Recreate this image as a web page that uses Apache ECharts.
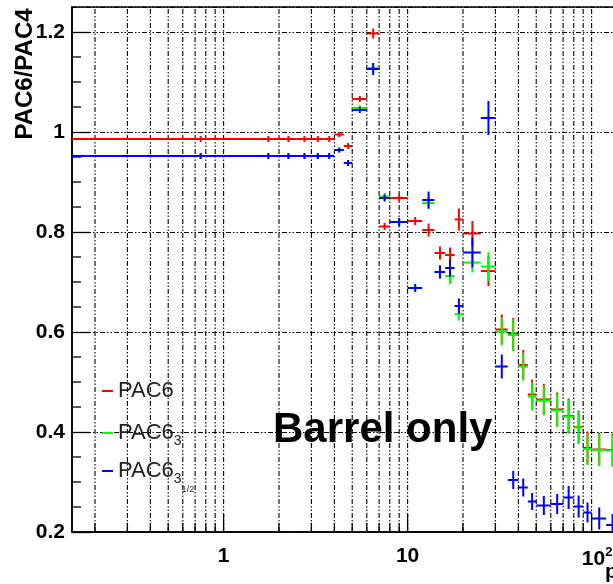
<!DOCTYPE html>
<html>
<head>
<meta charset="utf-8">
<script src="https://cdn.jsdelivr.net/npm/echarts@6/dist/echarts.min.js"></script>
<style>
  html, body { margin: 0; padding: 0; background: #fff; }
  #main { width: 613px; height: 584px; }
</style>
</head>
<body>
<div id="main"></div>
<script>
// bin edges in pT (GeV/c)
var binEdges = [0, 0.5, 1, 1.5, 2, 2.5, 3, 3.5, 4, 4.5, 5, 6, 7, 8, 10, 12, 14, 16, 18, 20,
                25, 30, 35, 40, 45, 50, 60, 70, 80, 90, 100, 120, 140];

// PAC6 (red)
var pac6 = [0.986, 0.986, 0.986, 0.986, 0.986, 0.986, 0.986, 0.986, 0.995, 0.972,
            1.066, 1.197, 0.811, 0.868, 0.822, 0.804, 0.758, 0.754, 0.825,
            0.797, 0.722, 0.605, 0.596, 0.534, 0.475, 0.465, 0.445, 0.432, 0.410, 0.368,
            0.365, 0.364];
var pac6Err = [0, 0.006, 0, 0.006, 0.006, 0.006, 0.006, 0.006, 0.005, 0.006,
               0.006, 0.010, 0.007, 0.007, 0.008, 0.013, 0.013, 0.015, 0.022,
               0.025, 0.030, 0.030, 0.032, 0.030, 0.030, 0.031, 0.034, 0.035, 0.033, 0.033,
               0.033, 0.033];

// PAC6_3 (green)
var pac63 = [0.952, 0.952, 0.952, 0.952, 0.952, 0.952, 0.952, 0.952, 0.964, 0.938,
             1.048, 1.128, 0.871, 0.820, 0.688, 0.858, 0.720, 0.712, 0.636,
             0.739, 0.731, 0.601, 0.594, 0.531, 0.471, 0.463, 0.443, 0.431, 0.409, 0.366,
             0.364, 0.363];
var pac63Err = [0, 0.006, 0, 0.006, 0.006, 0.006, 0.006, 0.006, 0.005, 0.006,
                0.006, 0.010, 0.007, 0.008, 0.008, 0.012, 0.013, 0.016, 0.013,
                0.020, 0.029, 0.028, 0.032, 0.028, 0.028, 0.030, 0.033, 0.034, 0.032, 0.032,
                0.032, 0.032];

// PAC6_3 1/2 (blue)
var pac6312 = [0.952, 0.952, 0.952, 0.952, 0.952, 0.952, 0.952, 0.952, 0.964, 0.938,
               1.044, 1.126, 0.868, 0.820, 0.688, 0.864, 0.720, 0.728, 0.652,
               0.759, 1.028, 0.531, 0.304, 0.289, 0.261, 0.253, 0.256, 0.269, 0.251, 0.239,
               0.227, 0.214];
var pac6312Err = [0, 0.006, 0, 0.006, 0.006, 0.006, 0.006, 0.006, 0.005, 0.006,
                  0.006, 0.012, 0.007, 0.008, 0.008, 0.017, 0.013, 0.017, 0.015,
                  0.030, 0.034, 0.024, 0.018, 0.018, 0.017, 0.019, 0.020, 0.023, 0.022, 0.020,
                  0.022, 0.022];

// grid / tick positions
var xGridMajor = [1, 10, 100];
var xGridMinor = [0.2, 0.3, 0.4, 0.5, 0.6, 0.7, 0.8, 0.9, 2, 3, 4, 5, 6, 7, 8, 9,
                  20, 30, 40, 50, 60, 70, 80, 90, 200];
var yMinorTicks = [0.25, 0.3, 0.35, 0.45, 0.5, 0.55, 0.65, 0.7, 0.75, 0.85, 0.9, 0.95,
                   1.05, 1.1, 1.15];

var xMin = 0.15, xMax = 200, yMin = 0.2, yMax = 1.25;
var FONT = '"Liberation Sans", Arial, Helvetica, sans-serif';
var dashDot = [5, 2, 1.5, 2, 1.5, 2];

var chart = echarts.init(document.getElementById('main'));

function makeData(vals, errs) {
    return vals.map(function (v, i) {
        var lo = binEdges[i], hi = binEdges[i + 1];
        return [(lo + hi) / 2, v, errs[i], lo, hi];
    });
}

function errorRender(color) {
    return function (params, api) {
        var y = api.value(1), e = api.value(2);
        var lo = Math.max(api.value(3), xMin), hi = api.value(4), xc = api.value(0);
        var pl = api.coord([lo, y]), ph = api.coord([hi, y]);
        var pc = api.coord([xc, y]);
        var top = api.coord([xc, y + e]), bot = api.coord([xc, y - e]);
        var st = { stroke: color, lineWidth: 2 };
        var children = [
            { type: 'line', shape: { x1: pl[0], y1: pl[1], x2: ph[0], y2: ph[1] }, style: st }
        ];
        if (e > 0) {
            children.push({ type: 'line', shape: { x1: pc[0], y1: top[1], x2: pc[0], y2: bot[1] }, style: st });
        }
        return { type: 'group', children: children };
    };
}

function errorSeries(name, color, vals, errs) {
    return {
        name: name,
        type: 'custom',
        clip: true,
        itemStyle: { color: color },
        renderItem: errorRender(color),
        encode: { x: 0, y: 1 },
        data: makeData(vals, errs),
        silent: true
    };
}

var gridData = xGridMajor.map(function (x) { return [x, yMin, 1]; })
    .concat(xGridMinor.map(function (x) { return [x, yMin, 0]; }));

var gridSeries = {
    type: 'custom',
    clip: true,
    silent: true,
    encode: { x: 0, y: 1 },
    data: gridData,
    renderItem: function (params, api) {
        var x = api.value(0), major = api.value(2);
        var b = api.coord([x, yMin]), t = api.coord([x, yMax]);
        return {
            type: 'group',
            children: [
                { type: 'line', shape: { x1: b[0], y1: b[1], x2: t[0], y2: t[1] },
                  style: { stroke: '#000', lineWidth: 1.1, lineDash: dashDot } },
                { type: 'line', shape: { x1: b[0], y1: b[1], x2: b[0], y2: b[1] - (major ? 18 : 9) },
                  style: { stroke: '#000', lineWidth: 1.3 } }
            ]
        };
    }
};

var yTickSeries = {
    type: 'custom',
    clip: true,
    silent: true,
    encode: { x: 0, y: 1 },
    data: yMinorTicks.map(function (y) { return [xMin, y]; }),
    renderItem: function (params, api) {
        var p = api.coord([xMin, api.value(1)]);
        return { type: 'line', shape: { x1: p[0], y1: p[1], x2: p[0] + 9, y2: p[1] },
                 style: { stroke: '#000', lineWidth: 1.3 } };
    }
};

var legendRich = {
    m: { fontSize: 22, fontFamily: FONT, color: '#222' },
    s: { fontSize: 14, fontFamily: FONT, color: '#222', padding: [17, 0, 0, 0] },
    t: { fontSize: 9, fontFamily: FONT, color: '#222', padding: [38, 0, 0, 0] }
};
var legendLabels = {
    'PAC6': '{m|PAC6}',
    'PAC6_3': '{m|PAC6}{s|3}',
    'PAC6_3_1/2': '{m|PAC6}{s|3}{t|1/2}'
};
function makeLegend(name, top) {
    return {
        data: [name],
        left: 102,
        top: top,
        padding: 0,
        icon: 'rect',
        itemWidth: 11,
        itemHeight: 2,
        selectedMode: false,
        formatter: function (n) { return legendLabels[n]; },
        textStyle: { rich: legendRich }
    };
}

function isDecade(v) {
    var l = Math.log10(v);
    return Math.abs(l - Math.round(l)) < 1e-6;
}

var option = {
    animation: false,
    backgroundColor: '#fff',
    grid: {
        left: 72, top: 7, width: 575, height: 525,
        outerBoundsMode: 'none',
        containLabel: false,
        show: true, borderColor: '#000', borderWidth: 1.5
    },
    xAxis: {
        type: 'log',
        logBase: 10,
        min: xMin,
        max: xMax,
        axisLine: { lineStyle: { color: '#000', width: 1.5 } },
        axisTick: { show: false },
        splitLine: { show: false },
        axisLabel: {
            margin: 14,
            showMinLabel: false,
            showMaxLabel: false,
            formatter: function (v) {
                if (!isDecade(v)) return '';
                var p = Math.round(Math.log10(v));
                if (p === 0) return '{b|1}';
                if (p === 1) return '{b|10}';
                return '{c|10}{p|' + p + '}';
            },
            rich: {
                b: { fontSize: 21, fontWeight: 'bold', fontFamily: FONT, color: '#000' },
                c: { fontSize: 21, fontWeight: 'bold', fontFamily: FONT, color: '#000', padding: [0, 0, 0, 11] },
                p: { fontSize: 13, fontWeight: 'bold', fontFamily: FONT, color: '#000', padding: [0, 0, 14, 0] }
            }
        }
    },
    yAxis: {
        type: 'value',
        min: yMin,
        max: yMax,
        interval: 0.2,
        axisLine: { show: true, lineStyle: { color: '#000', width: 1.5 } },
        axisTick: { show: true, inside: true, length: 18, lineStyle: { color: '#000', width: 1.3 } },
        splitLine: { show: true, lineStyle: { color: '#000', width: 1.1, type: dashDot } },
        axisLabel: {
            margin: 7,
            showMaxLabel: false,
            fontSize: 21,
            fontWeight: 'bold',
            fontFamily: FONT,
            color: '#000',
            formatter: function (v) {
                return Math.abs(v - 1) < 1e-9 ? '1' : (+v.toFixed(2)).toString();
            }
        }
    },
    legend: [
        makeLegend('PAC6', 380),
        makeLegend('PAC6_3', 422),
        makeLegend('PAC6_3_1/2', 460)
    ],
    graphic: [
        {
            type: 'text', x: 25, y: 74, rotation: Math.PI / 2,
            style: { text: 'PAC6/PAC4', font: 'bold 24px ' + FONT, fill: '#000',
                     align: 'center', verticalAlign: 'middle' }
        },
        {
            type: 'text', x: 273, y: 430,
            style: { text: 'Barrel only', font: 'bold 42px ' + FONT, fill: '#000',
                     align: 'left', verticalAlign: 'middle' }
        },
        {
            type: 'text', x: 605, y: 572,
            style: { text: 'p  (GeV/c)', font: 'bold 21px ' + FONT, fill: '#000',
                     align: 'left', verticalAlign: 'middle' }
        }
    ],
    series: [
        gridSeries,
        yTickSeries,
        errorSeries('PAC6', '#ff0000', pac6, pac6Err),
        errorSeries('PAC6_3', '#00ff00', pac63, pac63Err),
        errorSeries('PAC6_3_1/2', '#0000ff', pac6312, pac6312Err)
    ]
};

chart.setOption(option);
window.onresize = chart.resize;
</script>
</body>
</html>
